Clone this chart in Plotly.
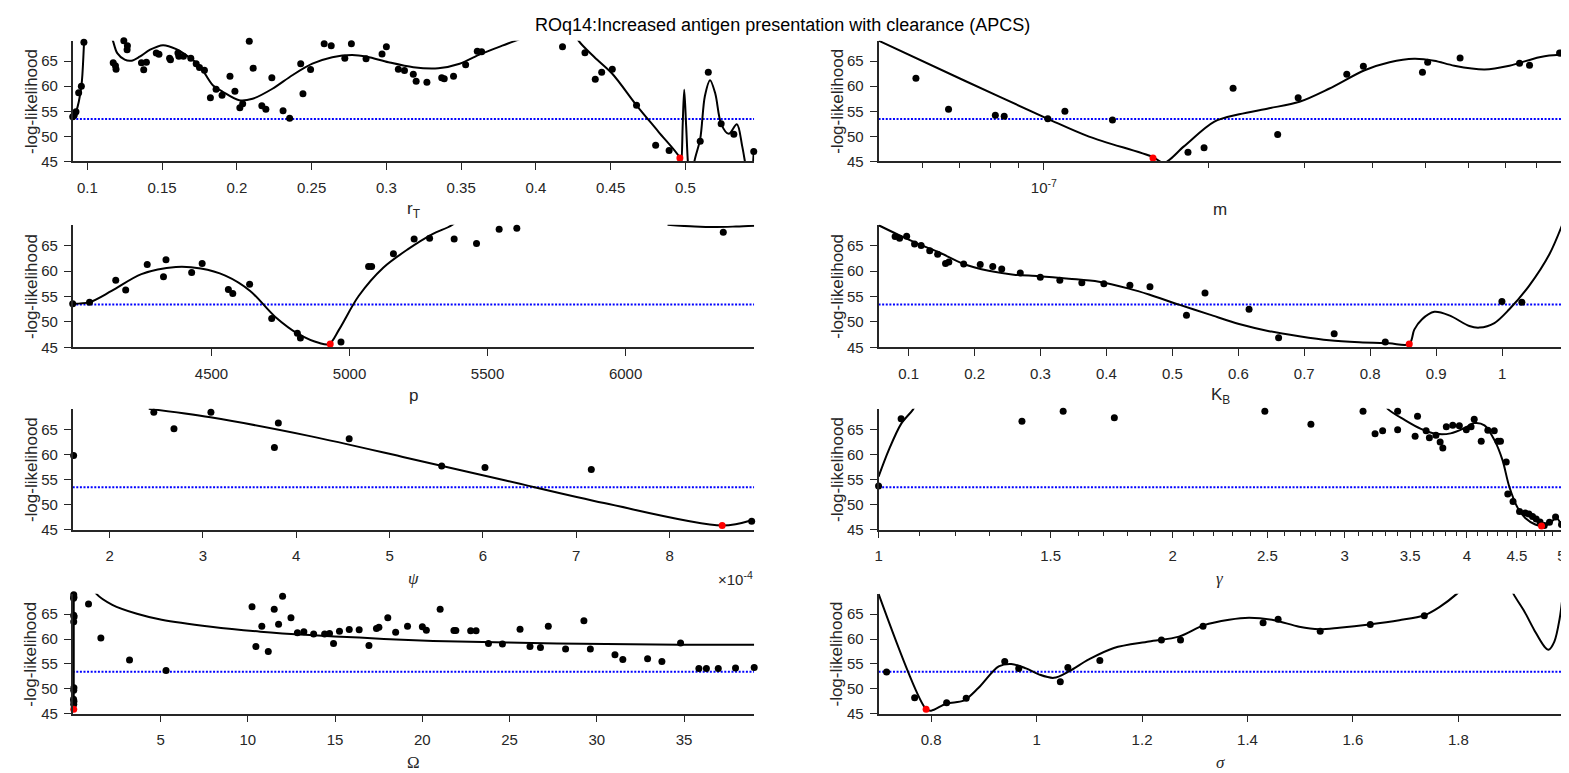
import plotly.graph_objects as go

W, H = 1569, 773
TITLE = "ROq14:Increased antigen presentation with clearance (APCS)"
THRESHOLD = 53.45
Y_RANGE = [45, 69.1]
Y_TICKS = [45, 50, 55, 60, 65]

# ---------------- Panel 1: r_T ----------------
rT_x = [0.0902, 0.0912, 0.0924, 0.0942, 0.0960, 0.0977, 0.1173, 0.1188, 0.1192, 0.1244, 0.1268, 0.1266,
        0.1362, 0.1377, 0.1395, 0.1461, 0.1479, 0.1550, 0.1556, 0.1606, 0.1612, 0.1643, 0.1692,
        0.1728, 0.1750, 0.1783, 0.1823, 0.1861, 0.1901, 0.1954, 0.1987, 0.2020, 0.2039,
        0.2083, 0.2109, 0.2167, 0.2194, 0.2234, 0.2309, 0.2353, 0.2427, 0.2442, 0.2493, 0.2584,
        0.2631, 0.2722, 0.2766, 0.2864, 0.2971, 0.3000, 0.3080, 0.3121, 0.3180, 0.3199, 0.3271,
        0.3370, 0.3387, 0.3449, 0.3530, 0.3608, 0.3637, 0.4178, 0.4328, 0.4397, 0.4440, 0.4511,
        0.4673, 0.4801, 0.4891, 0.5099, 0.5153, 0.5239, 0.5324, 0.5457]
rT_y = [53.9, 54.2, 54.9, 58.7, 60.0, 68.8, 64.7, 64.1, 63.4, 69.1, 68.1, 67.3,
        64.7, 63.3, 64.8, 66.65, 66.4, 65.6, 65.3, 66.65, 66.0, 66.0, 65.6,
        64.5, 63.75, 63.2, 57.7, 59.4, 58.2, 62.0, 59.0, 55.7, 56.5,
        69.0, 63.6, 56.1, 55.4, 61.7, 55.1, 53.6, 64.5, 58.5, 63.35, 68.5,
        68.1, 65.6, 68.5, 65.5, 66.45, 67.9, 63.4, 63.15, 62.4, 61.0, 60.8,
        61.7, 61.5, 62.0, 64.3, 67.0, 66.9, 67.9, 66.7, 61.4, 62.8, 63.4,
        56.2, 48.2, 47.2, 49.0, 62.8, 52.5, 50.4, 47.0]
rT_best = [0.4963, 45.7]
rT_curve_x = [0.0902, 0.0924, 0.0960, 0.0980, 0.1000, None,
              0.1160, 0.1173, 0.1200, 0.1250, 0.1295, 0.1350, 0.1420, 0.1506, 0.1595, 0.1670,
              0.1750, 0.1839, 0.1906, 0.2016, 0.2105, 0.2238, 0.2371, 0.2505, 0.2638, 0.2771,
              0.2871, 0.3014, 0.3180, 0.3347, 0.3490, 0.3632, 0.3775, 0.3865, 0.3917, None,
              0.4240, 0.4285, 0.4392, 0.4511, 0.4673, 0.4820, 0.4963, 0.4972, 0.4982, 0.4992,
              0.5005, 0.5020, 0.5040, 0.5060, 0.5099, 0.5130, 0.5165, 0.5200, 0.5239, 0.5290,
              0.5344, 0.5380, 0.5410, 0.5435, 0.5457]
rT_curve_y = [53.9, 54.9, 60.0, 69.5, 76.0, None,
              70.0, 68.9, 66.6, 65.3, 65.1, 65.9, 67.3, 68.2, 67.4, 66.0,
              64.1, 60.2, 58.9, 57.2, 57.5, 59.5, 62.2, 64.5, 65.8, 66.25,
              65.9, 64.8, 63.8, 63.6, 64.5, 66.45, 68.1, 69.1, 69.75, None,
              72.0, 69.1, 65.8, 62.5, 56.2, 50.9, 45.7, 44.3, 52.5, 59.3,
              52.0, 43.5, 39.5, 45.0, 49.5, 58.0, 61.2, 58.5, 52.5, 50.5,
              52.4, 48.0, 43.0, 40.0, 47.0]
rT_ticks = [0.1, 0.15, 0.2, 0.25, 0.3, 0.35, 0.4, 0.45, 0.5]
rT_ticktext = ["0.1", "0.15", "0.2", "0.25", "0.3", "0.35", "0.4", "0.45", "0.5"]

# ---------------- Panel 2: m (log) ----------------
m_x = [5.83e-8, 6.69e-8, 8.15e-8, 8.46e-8, 1.017e-7, 1.093e-7, 1.336e-7, 1.837e-7, 1.966e-7,
       2.222e-7, 2.682e-7, 2.924e-7, 3.59e-7, 3.85e-7, 4.94e-7, 5.05e-7, 5.79e-7, 7.44e-7,
       7.76e-7, 8.81e-7]
m_y = [61.6, 55.4, 54.2, 54.0, 53.5, 55.0, 53.25, 46.85, 47.7,
       59.6, 50.35, 57.7, 62.4, 64.0, 62.8, 64.8, 65.66, 64.6,
       64.2, 66.65]
m_best = [1.585e-7, 45.7]
m_curve_x = [4.98e-8, 7.13e-8, 1.017e-7, 1.21e-7, 1.585e-7, 1.66e-7, 1.806e-7, 2.05e-7, 2.28e-7,
             2.587e-7, 2.94e-7, 3.33e-7, 3.87e-7, 4.30e-7, 4.77e-7, 5.19e-7, 5.65e-7, 6.42e-7,
             7.13e-7, 8.09e-7, 8.72e-7, 8.9e-7]
m_curve_y = [69.1, 61.2, 53.5, 49.95, 45.86, 44.7, 48.0, 52.9, 54.4,
             55.6, 56.9, 59.5, 63.2, 64.8, 65.5, 65.1, 64.1, 63.35,
             64.1, 65.8, 66.25, 66.1]
m_ticks = [1e-7]
m_ticktext = ["10<sup>-7</sup>"]
m_minor = [6e-8, 7e-8, 8e-8, 9e-8, 2e-7, 3e-7, 4e-7, 5e-7, 6e-7, 7e-7, 8e-7]

# ---------------- Panel 3: p ----------------
p_x = [3997, 4058, 4153, 4189, 4267, 4326, 4335, 4428, 4466, 4561, 4577, 4638, 4718, 4811, 4822,
       4969, 5069, 5080, 5159, 5234, 5290, 5379, 5460, 5542, 5606, 6354]
p_y = [53.6, 53.9, 58.2, 56.3, 61.3, 58.9, 62.2, 59.7, 61.5, 56.4, 55.6, 57.4, 50.7, 47.8, 46.85,
       46.05, 60.9, 60.9, 63.4, 66.3, 66.45, 66.3, 65.4, 68.2, 68.4, 67.6]
p_best = [4930, 45.7]
p_curve_x = [3997, 4058, 4138, 4246, 4371, 4461, 4550, 4640, 4729, 4819, 4891, 4926, 4962, 5033,
             5123, 5212, 5302, 5370, 5400, None, 6152, 6250, 6330, 6400, 6466]
p_curve_y = [53.6, 53.9, 56.1, 59.4, 60.8, 60.5, 59.1, 56.1, 51.1, 47.5, 45.86, 45.66, 48.5, 55.1,
             60.7, 64.3, 67.3, 69.0, 70.5, None, 69.1, 68.75, 68.65, 68.75, 68.9]
p_ticks = [4500, 5000, 5500, 6000]
p_ticktext = ["4500", "5000", "5500", "6000"]

# ---------------- Panel 4: K_B ----------------
kb_x = [0.0795, 0.0863, 0.097, 0.109, 0.119, 0.132, 0.144, 0.156, 0.161, 0.1835, 0.2086, 0.2276,
        0.2412, 0.2693, 0.2997, 0.3293, 0.3627, 0.3961, 0.4356, 0.466, 0.5214, 0.5495, 0.6163,
        0.6611, 0.7454, 0.8229, 0.9998, 1.030]
kb_y = [66.8, 66.45, 66.85, 65.3, 65.0, 64.0, 63.3, 61.5, 61.8, 61.4, 61.3, 60.9,
        60.4, 59.6, 58.8, 58.2, 57.7, 57.5, 57.2, 56.9, 51.3, 55.7, 52.5,
        46.9, 47.7, 46.05, 54.0, 53.9]
kb_best = [0.8593, 45.66]
kb_curve_x = [0.0544, 0.0848, 0.1152, 0.1456, 0.1835, 0.2215, 0.2595, 0.2974, 0.343, 0.3885,
              0.4341, 0.4645, 0.51, 0.5556, 0.6011, 0.6467, 0.6923, 0.7378, 0.7834, 0.8289,
              0.8593, 0.8669, 0.8783, 0.8973, 0.92, 0.9504, 0.9656, 0.9884, 1.011, 1.041,
              1.072, 1.091]
kb_curve_y = [69.0, 67.1, 65.3, 63.7, 61.4, 60.05, 59.3, 59.0, 58.5, 57.9,
              56.55, 55.4, 53.4, 51.5, 49.6, 48.2, 47.2, 46.4, 46.0, 45.8,
              45.66, 48.5, 50.5, 52.0, 51.3, 49.2, 48.9, 49.8, 52.5, 57.1,
              63.35, 69.0]
kb_ticks = [0.1, 0.2, 0.3, 0.4, 0.5, 0.6, 0.7, 0.8, 0.9, 1.0]
kb_ticktext = ["0.1", "0.2", "0.3", "0.4", "0.5", "0.6", "0.7", "0.8", "0.9", "1"]

# ---------------- Panel 5: psi ----------------
psi_x = [1.615e-4, 2.474e-4, 2.69e-4, 3.086e-4, 3.766e-4, 3.808e-4, 4.567e-4, 5.558e-4, 6.022e-4,
         7.161e-4, 8.879e-4]
psi_y = [59.8, 68.4, 65.1, 68.4, 61.4, 66.25, 63.1, 57.7, 57.4, 57.0, 46.65]
psi_best = [8.563e-4, 45.8]
psi_curve_x = [2.42e-4, 3.081e-4, 4.135e-4, 5.189e-4, 6.244e-4, 7.298e-4, 8.563e-4, 8.879e-4]
psi_curve_y = [69.1, 67.4, 63.7, 59.3, 54.8, 50.3, 45.8, 46.85]
psi_ticks = [2e-4, 3e-4, 4e-4, 5e-4, 6e-4, 7e-4, 8e-4]
psi_ticktext = ["2", "3", "4", "5", "6", "7", "8"]

# ---------------- Panel 6: gamma (log) ----------------
gam_x = [1.0, 1.0546, 1.402, 1.545, 1.743, 2.485, 2.770, 3.132, 3.222, 3.280, 3.398, 3.398, 3.541,
         3.561, 3.634, 3.662, 3.719, 3.756, 3.780, 3.811, 3.869, 3.930, 3.995, 4.040, 4.070, 4.138,
         4.203, 4.267, 4.304, 4.330, 4.389, 4.405, 4.460, 4.529, 4.590, 4.630, 4.670, 4.710, 4.753,
         4.800, 4.860, 4.930, 5.0]
gam_y = [53.7, 67.1, 66.6, 68.6, 67.3, 68.6, 66.0, 68.6, 64.1, 64.7, 68.6, 64.9, 63.6,
         67.6, 64.7, 63.3, 63.8, 62.5, 61.3, 65.5, 65.8, 65.7, 64.9, 65.5, 67.0, 62.6,
         64.8, 64.7, 62.6, 62.6, 58.5, 52.1, 50.6, 48.6, 48.3, 48.1, 47.6, 47.1, 46.5,
         45.8, 46.45, 47.5, 46.0]
gam_best = [4.77, 45.7]
gam_curve_x = [1.0, 1.024, 1.0546, 1.084, 1.093, None,
               3.30, 3.319, 3.46, 3.59, 3.72, 3.85, 3.99, 4.07, 4.17, 4.27, 4.35, 4.42, 4.51,
               4.59, 4.70, 4.78, 4.86, 4.94, 5.0]
gam_curve_y = [55.55, 60.8, 66.1, 68.9, 70.1, None,
               70.0, 69.1, 66.8, 65.1, 64.1, 64.2, 65.4, 66.25, 65.8, 62.8, 58.9, 53.6, 49.3,
               47.3, 46.0, 45.66, 46.2, 47.3, 45.8]
gam_ticks = [1, 1.5, 2, 2.5, 3, 3.5, 4, 4.5, 5]
gam_ticktext = ["1", "1.5", "2", "2.5", "3", "3.5", "4", "4.5", "5"]
gam_minor = [1.1, 1.2, 1.3, 1.4, 1.6, 1.7, 1.8, 1.9, 2.1, 2.2, 2.3, 2.4, 2.6, 2.7, 2.8, 2.9,
             3.1, 3.2, 3.3, 3.4, 3.6, 3.7, 3.8, 3.9, 4.1, 4.2, 4.3, 4.4, 4.6, 4.7, 4.8, 4.9]

# ---------------- Panel 7: Omega ----------------
om_x = [0.02, 0.03, 0.01, 0.02, 0.04, 0.02, 0.03, 0.02, 0.01, 0.03, 0.02,
        0.868, 1.575, 3.217, 5.31, 10.24, 10.46, 10.8, 11.17, 11.51, 11.76, 11.99, 12.47, 12.84,
        13.21, 13.77, 14.4, 14.68, 14.91, 15.25, 15.81, 16.38, 16.94, 17.37, 17.51, 18.02, 18.47,
        19.15, 20.0, 20.23, 21.02, 21.81, 21.92, 22.77, 23.08, 23.79, 24.59, 25.6, 26.17, 26.77,
        27.22, 28.21, 29.26, 29.63, 31.04, 31.49, 32.91, 33.73, 34.8, 35.85, 36.28, 36.96,
        37.95, 39.02]
om_y = [68.9, 68.4, 68.2, 64.8, 64.5, 63.5, 50.2, 49.7, 47.9, 47.5, 46.9,
        67.05, 60.2, 55.8, 53.7, 66.5, 58.5, 62.6, 57.5, 66.0, 63.0, 68.6, 64.3, 61.3,
        61.5, 61.0, 61.0, 61.1, 59.1, 61.6, 61.95, 61.9, 58.7, 62.15, 62.4, 64.3, 61.4,
        62.6, 62.5, 61.8, 66.0, 61.75, 61.75, 61.7, 61.7, 59.1, 59.0, 62.0, 58.5, 58.3,
        62.6, 58.0, 63.7, 58.0, 56.85, 55.9, 56.05, 55.5, 59.2, 54.1, 54.1, 54.1,
        54.2, 54.3]
om_best = [0.02, 45.9]
om_curve_x = [0.02, 0.02, None, 1.1, 1.32, 2.23, 3.64, 5.06, 7.89, 10.72, 13.55, 16.38, 19.2,
              22.04, 24.87, 27.7, 30.53, 33.36, 36.19, 39.02]
om_curve_y = [45.9, 69.5, None, 70.5, 69.1, 66.9, 65.1, 63.9, 62.5, 61.5, 60.8, 60.3, 59.8,
              59.5, 59.3, 59.1, 59.0, 58.9, 58.85, 58.85]
om_ticks = [5, 10, 15, 20, 25, 30, 35]
om_ticktext = ["5", "10", "15", "20", "25", "30", "35"]

# ---------------- Panel 8: sigma ----------------
sg_x = [0.7155, 0.7687, 0.8294, 0.8665, 0.9396, 0.9662, 1.045, 1.0593, 1.12, 1.2368, 1.273,
        1.3157, 1.4296, 1.4581, 1.5379, 1.6329, 1.7354]
sg_y = [53.4, 48.2, 47.2, 48.1, 55.5, 54.1, 51.4, 54.3, 55.7, 59.8, 59.8,
        62.6, 63.3, 64.0, 61.6, 62.95, 64.7]
sg_best = [0.7905, 45.9]
sg_curve_x = [0.7003, 0.7905, 0.80, 0.8294, 0.8617, 0.89, 0.9282, 0.952, 0.98, 1.0042, 1.0327,
              1.0612, 1.0991, 1.1466, 1.2131, 1.27, 1.3176, 1.3651, 1.4031, 1.4506, 1.498, 1.536,
              1.574, 1.631, 1.688, 1.7354, 1.764, 1.797, 1.81, None,
              1.895, 1.9045, 1.9254, 1.944, 1.963, 1.971, 1.982, 1.992, 1.997]
sg_curve_y = [69.1, 45.9, 45.6, 47.05, 47.6, 50.2, 54.5, 55.0, 54.1, 52.9, 52.2,
              53.5, 55.9, 58.2, 59.5, 60.5, 62.8, 63.9, 64.3, 63.8, 62.5, 62.0,
              62.3, 62.95, 63.8, 64.8, 66.45, 69.1, 70.5, None,
              71.5, 69.1, 65.5, 61.8, 58.5, 57.85, 59.5, 64.1, 68.1]
sg_ticks = [0.8, 1.0, 1.2, 1.4, 1.6, 1.8]
sg_ticktext = ["0.8", "1", "1.2", "1.4", "1.6", "1.8"]

# ---------------------------------------------------------------
INK = "#262626"
FONT = "Liberation Sans"


def px_x(v):
    return v / W


def px_y(v):
    return 1 - v / H


LEFT = [px_x(61), px_x(746)]
RIGHT = [px_x(871), px_x(1558)]
ROWS = [(33, 155), (219, 343), (405, 527), (592, 713)]

panels = [
    dict(x=rT_x, y=rT_y, b=rT_best, cx=rT_curve_x, cy=rT_curve_y, col=0, row=0, type="linear",
         rng=[0.0902, 0.5460], tv=rT_ticks, tt=rT_ticktext, minor=None,
         label="r<sub>T</sub>", lfont=FONT),
    dict(x=m_x, y=m_y, b=m_best, cx=m_curve_x, cy=m_curve_y, col=1, row=0, type="log",
         rng=[-7.3028, -6.0505], tv=m_ticks, tt=m_ticktext, minor=m_minor,
         label="m", lfont=FONT),
    dict(x=p_x, y=p_y, b=p_best, cx=p_curve_x, cy=p_curve_y, col=0, row=1, type="linear",
         rng=[3997, 6466], tv=p_ticks, tt=p_ticktext, minor=None,
         label="p", lfont=FONT),
    dict(x=kb_x, y=kb_y, b=kb_best, cx=kb_curve_x, cy=kb_curve_y, col=1, row=1, type="linear",
         rng=[0.0544, 1.091], tv=kb_ticks, tt=kb_ticktext, minor=None,
         label="K<sub>B</sub>", lfont=FONT),
    dict(x=psi_x, y=psi_y, b=psi_best, cx=psi_curve_x, cy=psi_curve_y, col=0, row=2, type="linear",
         rng=[1.605e-4, 8.906e-4], tv=psi_ticks, tt=psi_ticktext, minor=None,
         label="<i>ψ</i>", lfont="Liberation Serif"),
    dict(x=gam_x, y=gam_y, b=gam_best, cx=gam_curve_x, cy=gam_curve_y, col=1, row=2, type="log",
         rng=[0.0, 0.6995], tv=gam_ticks, tt=gam_ticktext, minor=gam_minor,
         label="<i>γ</i>", lfont="Liberation Serif"),
    dict(x=om_x, y=om_y, b=om_best, cx=om_curve_x, cy=om_curve_y, col=0, row=3, type="linear",
         rng=[-0.04, 39.02], tv=om_ticks, tt=om_ticktext, minor=None,
         label="Ω", lfont="Liberation Serif"),
    dict(x=sg_x, y=sg_y, b=sg_best, cx=sg_curve_x, cy=sg_curve_y, col=1, row=3, type="linear",
         rng=[0.7003, 1.9966], tv=sg_ticks, tt=sg_ticktext, minor=None,
         label="<i>σ</i>", lfont="Liberation Serif"),
]

fig = go.Figure()
layout = dict(
    width=W, height=H, margin=dict(l=0, r=0, t=0, b=0),
    paper_bgcolor="white", plot_bgcolor="white", showlegend=False,
    font=dict(family=FONT, color=INK),
)
annotations = []

for i, pnl in enumerate(panels, start=1):
    xa = "x" if i == 1 else f"x{i}"
    ya = "y" if i == 1 else f"y{i}"
    dom_x = LEFT if pnl["col"] == 0 else RIGHT
    top, bot = ROWS[pnl["row"]]
    dom_y = [px_y(bot), px_y(top)]

    xaxis = dict(
        domain=dom_x, anchor=ya, type=pnl["type"], range=pnl["rng"],
        showline=True, linecolor=INK, linewidth=1.7, mirror=False,
        ticks="outside", ticklen=7, tickwidth=1.4, tickcolor=INK,
        showgrid=False, zeroline=False,
        tickmode="array", tickvals=pnl["tv"], ticktext=pnl["tt"],
        tickfont=dict(family=FONT, size=15, color=INK), ticklabelstandoff=5,
    )
    if pnl["minor"] is not None:
        xaxis["minor"] = dict(tickmode="array", tickvals=pnl["minor"], ticks="outside",
                              ticklen=5, tickwidth=1.4, tickcolor=INK, showgrid=False)
    yaxis = dict(
        domain=dom_y, anchor=xa, range=Y_RANGE,
        showline=True, linecolor=INK, linewidth=1.7, mirror=False,
        ticks="outside", ticklen=7, tickwidth=1.4, tickcolor=INK,
        showgrid=False, zeroline=False,
        tickmode="array", tickvals=Y_TICKS,
        tickfont=dict(family=FONT, size=15, color=INK), ticklabelstandoff=3,
    )
    layout["xaxis" if i == 1 else f"xaxis{i}"] = xaxis
    layout["yaxis" if i == 1 else f"yaxis{i}"] = yaxis

    # threshold line
    x_lo, x_hi = pnl["rng"]
    if pnl["type"] == "log":
        x_lo, x_hi = 10 ** x_lo, 10 ** x_hi
    fig.add_trace(go.Scatter(x=[x_lo, x_hi], y=[THRESHOLD, THRESHOLD], xaxis=xa, yaxis=ya,
                             mode="lines", line=dict(color="#0000ff", width=2, dash="2px,1.6px"),
                             hoverinfo="skip"))
    # fitted curve
    fig.add_trace(go.Scatter(x=pnl["cx"], y=pnl["cy"], xaxis=xa, yaxis=ya, mode="lines",
                             line=dict(color="black", width=2, shape="spline", smoothing=0.9),
                             connectgaps=False, cliponaxis=True, hoverinfo="skip"))
    # sampled points
    fig.add_trace(go.Scatter(x=pnl["x"], y=pnl["y"], xaxis=xa, yaxis=ya, mode="markers",
                             marker=dict(color="black", size=7), cliponaxis=False))
    # best point
    fig.add_trace(go.Scatter(x=[pnl["b"][0]], y=[pnl["b"][1]], xaxis=xa, yaxis=ya, mode="markers",
                             marker=dict(color="#ff0000", size=7), cliponaxis=False))

    # axis titles
    xc = (dom_x[0] + dom_x[1]) / 2
    annotations.append(dict(text=pnl["label"], x=xc, y=px_y(bot + 49), xref="paper", yref="paper",
                            xanchor="center", yanchor="middle", showarrow=False,
                            font=dict(family=pnl["lfont"], size=17, color=INK)))
    ylab_x = px_x(19) if pnl["col"] == 0 else px_x(829)
    annotations.append(dict(text="-log-likelihood", x=ylab_x, y=px_y((top + bot) / 2),
                            xref="paper", yref="paper", textangle=-90,
                            xanchor="center", yanchor="middle", showarrow=False,
                            font=dict(family=FONT, size=17, color=INK)))

# exponent label for psi axis
annotations.append(dict(text="×10<sup>-4</sup>", x=px_x(747), y=px_y(576), xref="paper", yref="paper",
                        xanchor="right", yanchor="middle", showarrow=False,
                        font=dict(family=FONT, size=15, color=INK)))
# overall title
annotations.append(dict(text=TITLE, x=px_x(774), y=px_y(17), xref="paper", yref="paper",
                        xanchor="center", yanchor="middle", showarrow=False,
                        font=dict(family=FONT, size=18, color="black")))

layout["annotations"] = annotations
fig.update_layout(**layout)
fig.write_html("out.html")
